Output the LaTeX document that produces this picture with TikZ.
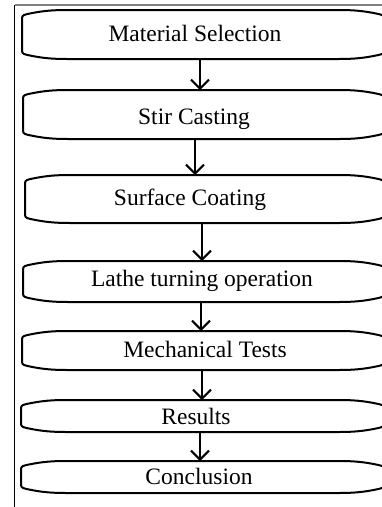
\documentclass[tikz,border=0pt]{standalone}
\usepackage{fontspec}
\setmainfont{Liberation Serif}
\usetikzlibrary{arrows.meta,fit}
% #1 name, #2 left x, #3 top y, #4 bottom y, #5 text centre x, #6 text baseline y, #7 text
\newcommand\stagebox[7]{%
  \draw[stageline] (#2,#3+8) -- (#2,#4-8)
    .. controls (#2,#4-5) and (#2+3,#4-4.5) .. (#2+8,#4-3.5)
    .. controls (#2+20,#4-1) and (#2+30,#4) .. (#2+45,#4)
    -- (339,#4)
    .. controls (354,#4) and (364,#4-1) .. (376,#4-3.5)
    .. controls (381,#4-4.5) and (384,#4-5) .. (384,#4-8)
    -- (384,#3+8)
    .. controls (384,#3+5) and (381,#3+4.5) .. (376,#3+3.5)
    .. controls (364,#3+1) and (354,#3) .. (339,#3)
    -- (#2+45,#3)
    .. controls (#2+30,#3) and (#2+20,#3+1) .. (#2+8,#3+3.5)
    .. controls (#2+3,#3+4.5) and (#2,#3+5) .. (#2,#3+8) -- cycle;
  \node[inner sep=0pt, outer sep=0pt, fit={(#2,#3) (384,#4)}] (#1) {};
  \node[lbl] (#1t) at (#5,#6) {#7};
}
\begin{document}
\begin{tikzpicture}[x=1pt,y=-1pt,
  stageline/.style={line width=2pt, line join=round},
  flow/.style={line width=2pt, -{Straight Barb[length=9pt,width=18pt,line width=2pt]}},
  lbl/.style={font=\fontsize{23.5}{28}\selectfont, anchor=base, inner sep=0pt}]
\useasboundingbox (0,0) rectangle (382,507);
\clip (0,0) rectangle (382,507);
\fill[white] (0,0) rectangle (382,507);
\draw[line width=1.3pt] (14.5,5) -- (14.5,508);
\draw[gray, line width=1.3pt] (14.5,5) -- (383,5);

\stagebox{b1}{22}{10}{59}{195}{41.7}{Material Selection}
\stagebox{b2}{23}{90}{139}{194}{124.3}{Stir Casting}
\stagebox{b3}{25}{175}{223}{190}{205}{Surface Coating}
\stagebox{b4}{23}{261}{302}{202}{286.7}{Lathe turning operation}
\stagebox{b5}{22}{331}{370}{205}{357.3}{Mechanical Tests}
\stagebox{b6}{21}{400}{432}{196}{424}{Results}
\stagebox{b7}{21}{461}{493}{199}{484.3}{Conclusion}

\coordinate (x1) at (200,0);
\coordinate (x2) at (195,0);
\coordinate (x3) at (202,0);
\coordinate (x4) at (201,0);
\coordinate (x5) at (202,0);
\coordinate (x6) at (200,0);

\draw[flow] (b1.south -| x1) -- (b2.north -| x1);
\draw[flow] (b2.south -| x2) -- (b3.north -| x2);
\draw[flow] (b3.south -| x3) -- (b4.north -| x3);
\draw[flow] (b4.south -| x4) -- (b5.north -| x4);
\draw[flow] (b5.south -| x5) -- (b6.north -| x5);
\draw[flow] (b6.south -| x6) -- (b7.north -| x6);
\end{tikzpicture}
\end{document}
